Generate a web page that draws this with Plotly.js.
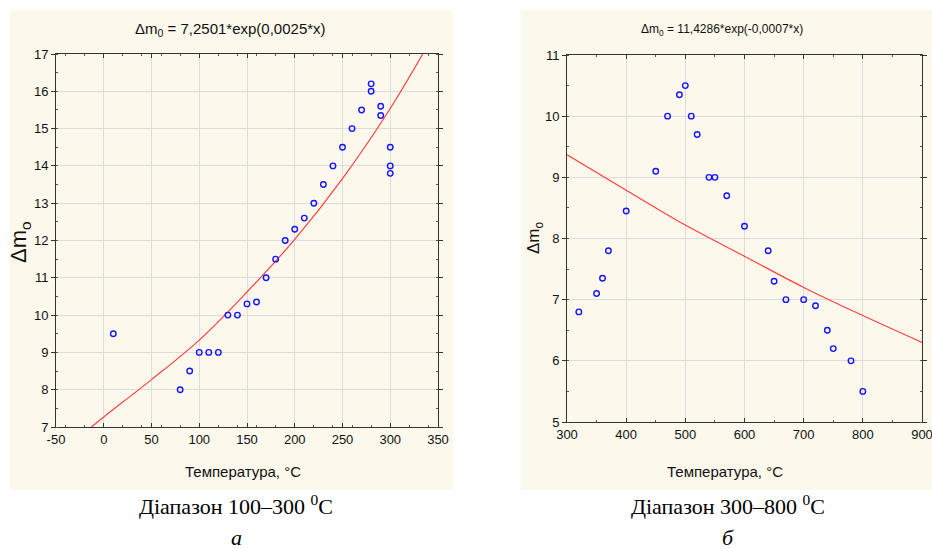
<!DOCTYPE html>
<html>
<head>
<meta charset="utf-8">
<script src="https://cdn.plot.ly/plotly-3.0.1.min.js"></script>
<style>html,body{margin:0;padding:0;background:#fff;}#chart{width:932px;height:549px;}</style>
</head>
<body>
<div id="chart"></div>
<script>
// Panel a: 100–300 °C
const tempA = [10, 80, 90, 100, 110, 120, 130, 140, 150, 160, 170, 180, 190, 200, 210, 220, 230, 240, 250, 260, 270, 280, 280, 290, 290, 300, 300, 300];
const dmA   = [9.5, 8.0, 8.5, 9.0, 9.0, 9.0, 10.0, 10.0, 10.3, 10.35, 11.0, 11.5, 12.0, 12.3, 12.6, 13.0, 13.5, 14.0, 14.5, 15.0, 15.5, 16.0, 16.2, 15.6, 15.35, 14.5, 14.0, 13.8];
// fitted curve
const fitAx = [-13, 0, 50, 100, 150, 200, 250, 300, 334];
const fitAy = [7.0, 7.27, 8.27, 9.33, 10.62, 12.03, 13.66, 15.54, 17.0];
const ticksAx = [-50, 0, 50, 100, 150, 200, 250, 300, 350];
const ticksAxText = ['-50', '0', '50', '100', '150', '200', '250', '300', '350'];
const ticksAy = [7, 8, 9, 10, 11, 12, 13, 14, 15, 16, 17];

// Panel б: 300–800 °C
const tempB = [320, 350, 360, 370, 400, 450, 470, 490, 500, 510, 520, 540, 550, 570, 600, 640, 650, 670, 700, 720, 740, 750, 780, 800];
const dmB   = [6.8, 7.1, 7.35, 7.8, 8.45, 9.1, 10.0, 10.35, 10.5, 10.0, 9.7, 9.0, 9.0, 8.7, 8.2, 7.8, 7.3, 7.0, 7.0, 6.9, 6.5, 6.2, 6.0, 5.5];
const fitBx = [300, 400, 500, 600, 700, 800, 900];
const fitBy = [9.37, 8.79, 8.22, 7.71, 7.2, 6.74, 6.30];
const ticksBx = [300, 400, 500, 600, 700, 800, 900];
const ticksBy = [5, 6, 7, 8, 9, 10, 11];

const titleA = 'Δm<sub>0</sub> = 7,2501*exp(0,0025*x)';
const titleB = 'Δm<sub>0</sub> = 11,4286*exp(-0,0007*x)';
const xTitle = 'Температура, °C';
const yTitle = 'Δm<sub>o</sub>';
const captionA = 'Діапазон 100–300 <sup>0</sup>C';
const captionB = 'Діапазон 300–800 <sup>0</sup>C';
const letterA = 'а';
const letterB = 'б';

const NARROW = '"Liberation Sans Narrow", "Arial Narrow", "Liberation Sans", Arial, sans-serif';
const SERIF = '"Liberation Serif", "Times New Roman", serif';
const W = 932, H = 549;
const px = v => v / W;
const py = v => 1 - v / H;

const markerStyle = {symbol: 'circle-open', size: 5.5, color: '#1515ff', line: {width: 1.4, color: '#1515ff'}};
const lineStyle = {color: '#ff4040', width: 1.2, shape: 'spline'};

const traces = [
  {x: fitAx, y: fitAy, mode: 'lines', line: lineStyle, xaxis: 'x', yaxis: 'y', hoverinfo: 'skip'},
  {x: tempA, y: dmA, mode: 'markers', marker: markerStyle, xaxis: 'x', yaxis: 'y'},
  {x: fitBx, y: fitBy, mode: 'lines', line: lineStyle, xaxis: 'x2', yaxis: 'y2', hoverinfo: 'skip'},
  {x: tempB, y: dmB, mode: 'markers', marker: markerStyle, xaxis: 'x2', yaxis: 'y2'}
];

function axis(extra) {
  return Object.assign({
    showline: true, mirror: 'allticks', linecolor: '#333', linewidth: 1,
    showgrid: true, gridcolor: '#dcdcdc', gridwidth: 1,
    zeroline: false, ticks: 'inside', ticklen: 4, tickcolor: '#333',
    tickmode: 'array', ticklabeloverflow: 'allow',
    tickfont: {family: NARROW, size: 13, color: '#111'},
    minor: {ticks: 'inside', ticklen: 2, tickcolor: '#555', showgrid: false}
  }, extra);
}

function ann(text, x, y, font, extra) {
  return Object.assign({text: text, xref: 'paper', yref: 'paper', x: px(x), y: py(y), xanchor: 'center', yanchor: 'middle', showarrow: false, font: font}, extra || {});
}

const layout = {
  width: W, height: H,
  margin: {l: 0, r: 0, t: 0, b: 0},
  paper_bgcolor: '#ffffff',
  plot_bgcolor: '#ffffff',
  showlegend: false,
  xaxis: axis({domain: [px(56), px(438)], range: [-50, 350], tickvals: ticksAx, ticktext: ticksAxText, anchor: 'y'}),
  yaxis: axis({domain: [py(427), py(54)], range: [7, 17], tickvals: ticksAy, anchor: 'x', ticks: 'outside'}),
  xaxis2: axis({domain: [px(567), px(922)], range: [300, 900], tickvals: ticksBx, anchor: 'y2'}),
  yaxis2: axis({domain: [py(422), py(55)], range: [5, 11], tickvals: ticksBy, anchor: 'x2', ticks: 'outside'}),
  shapes: [
    {type: 'rect', xref: 'paper', yref: 'paper', x0: px(10), x1: px(453), y0: py(490), y1: py(10), fillcolor: '#fdf8ec', line: {width: 0}, layer: 'below'},
    {type: 'rect', xref: 'paper', yref: 'paper', x0: px(521), x1: 1, y0: py(490), y1: py(10), fillcolor: '#fdf8ec', line: {width: 0}, layer: 'below'}
  ],
  annotations: [
    ann(titleA, 230, 30, {family: NARROW, size: 15, color: '#111'}),
    ann(titleB, 722, 30, {family: NARROW, size: 12, color: '#111'}),
    ann(xTitle, 243, 471, {family: NARROW, size: 15, color: '#111'}),
    ann(xTitle, 725, 471, {family: NARROW, size: 15, color: '#111'}),
    ann(yTitle, 20, 242, {family: '"Liberation Sans", Arial, sans-serif', size: 22, color: '#111'}, {textangle: -90}),
    ann(yTitle, 535, 238, {family: '"Liberation Sans", Arial, sans-serif', size: 17, color: '#111'}, {textangle: -90}),
    ann(captionA, 236, 505, {family: SERIF, size: 22, color: '#000'}),
    ann(captionB, 728, 505, {family: SERIF, size: 22, color: '#000'}),
    ann('<i>' + letterA + '</i>', 236, 537, {family: SERIF, size: 22, color: '#000'}),
    ann('<i>' + letterB + '</i>', 728, 537, {family: SERIF, size: 22, color: '#000'})
  ]
};

Plotly.newPlot('chart', traces, layout, {displayModeBar: false, staticPlot: true});
</script>
</body>
</html>
